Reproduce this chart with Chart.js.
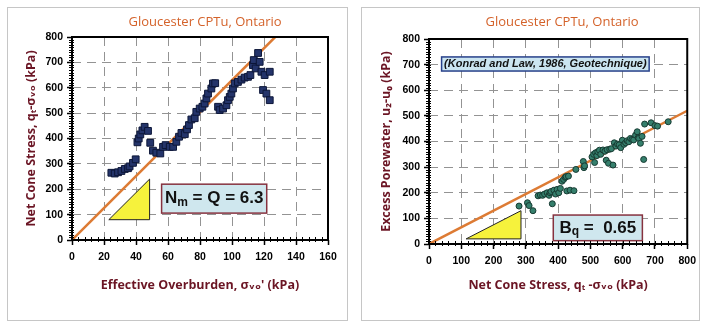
<!DOCTYPE html>
<html>
<head>
<meta charset="utf-8">
<script src="https://cdn.jsdelivr.net/npm/chart.js@4.4.1/dist/chart.umd.min.js"></script>
<style>
  html, body { margin: 0; padding: 0; background: #fff; }
  #wrap { position: relative; width: 702px; height: 322px; overflow: hidden; }
  .panel { position: absolute; border: 1px solid #c6c6c6; box-sizing: border-box; }
  canvas { position: absolute; top: 0; }
</style>
</head>
<body>
<div id="wrap">
  <div class="panel" style="left:7px;top:7px;width:341px;height:314px"></div>
  <div class="panel" style="left:361px;top:7px;width:339px;height:314px"></div>
  <canvas id="left" width="354" height="322" style="left:0"></canvas>
  <canvas id="right" width="348" height="322" style="left:354px"></canvas>
</div>
<script>
// --- left panel: net cone stress vs effective overburden ---
const overburden = [24.6,26.7,28.8,30.9,33,35,36,38.1,39.8,40.9,41.7,42.7,44,45.4,47.5,48.9,50.6,52.7,55.2,56.9,58.5,61.1,63.2,65.2,66.9,68.4,70.5,71.9,73.1,74.6,76.7,77.7,79.8,81.5,82.9,84,85,87.1,88.1,89.5,91.3,92.3,94.4,96.5,97.5,98.6,99.6,100.6,101.7,103.7,105.9,107.9,110,111.5,113.1,113.6,114.8,116.3,117.3,118.4,119.4,120.4,121.5,123.6,123.6];
const netStressL = [265,262,267,272,280,283,290,304,318,385,400,416,432,446,430,383,352,344,341,367,374,367,367,387,407,422,417,436,453,475,480,505,518,525,538,558,577,597,617,618,525,512,518,531,551,564,577,597,617,623,632,640,643,650,689,709,676,737,702,663,591,650,577,663,551];
const fitLX = [0, 127];
const fitLY = [0, 800];

// --- right panel: excess porewater vs net cone stress ---
const netStressR = [279,305,310,322,338,345,352,358,366,372,375,378,382,387,392,397,402,407,412,417,422,425,427,432,437,449,455,478,480,482,505,510,513,516,520,523,528,532,539,545,549,552,556,560,565,570,574,579,584,589,594,599,604,609,614,619,624,629,634,640,645,648,650,655,660,665,668,688,700,708,741];
const excessPore = [148,161,150,130,188,191,190,195,200,190,200,205,157,210,195,213,200,217,245,252,260,263,207,265,210,208,291,322,298,305,340,350,318,356,345,360,366,350,367,362,327,368,315,370,372,308,395,382,390,387,376,405,389,395,403,399,412,408,406,425,438,415,412,393,420,330,468,473,462,460,477];
const fitRX = [0, 800];
const fitRY = [0, 520];

const zip = (xs, ys) => xs.map((x, i) => ({ x, y: ys[i] }));

const TICK_FONT = { family: '"Liberation Sans", Arial, sans-serif', size: 10.5, weight: 'bold' };
const AXIS_FONT = { family: '"Open Sans", "DejaVu Sans", sans-serif', size: 12.5, weight: 'bold' };
const AXIS_RED = '#6b1524';

// extras drawn on top of the scales: triangles, text boxes, frame, minor ticks, title
const decor = {
  id: 'decor',
  beforeDatasetsDraw(chart, args, o) {
    const { ctx } = chart, xs = chart.scales.x, ys = chart.scales.y;
    const px = v => xs.getPixelForValue(v), py = v => ys.getPixelForValue(v);
    ctx.save();
    ctx.beginPath();
    o.tri.forEach((p, i) => i ? ctx.lineTo(px(p[0]), py(p[1])) : ctx.moveTo(px(p[0]), py(p[1])));
    ctx.closePath();
    ctx.fillStyle = '#f6f23c'; ctx.fill();
    ctx.strokeStyle = '#222'; ctx.lineWidth = 1; ctx.stroke();

    o.boxes.forEach(b => {
      const x0 = px(b.x[0]), x1 = px(b.x[1]), y0 = py(b.y[1]), y1 = py(b.y[0]);
      ctx.fillStyle = b.fill; ctx.fillRect(x0, y0, x1 - x0, y1 - y0);
      ctx.strokeStyle = b.edge; ctx.lineWidth = 1.5; ctx.strokeRect(x0, y0, x1 - x0, y1 - y0);
      // text pieces, some of them subscripts
      let w = 0;
      b.parts.forEach(p => { ctx.font = `${b.style} ${p.s}px ${b.family}`; p.w = ctx.measureText(p.t).width; w += p.w; });
      let x = (x0 + x1) / 2 - w / 2;
      const yc = (y0 + y1) / 2 + b.dy;
      ctx.fillStyle = '#111'; ctx.textBaseline = 'middle'; ctx.textAlign = 'left';
      b.parts.forEach(p => { ctx.font = `${b.style} ${p.s}px ${b.family}`; ctx.fillText(p.t, x, yc + (p.dy || 0)); x += p.w; });
    });
    ctx.restore();
  },
  afterDraw(chart, args, o) {
    const { ctx, chartArea: a } = chart, xs = chart.scales.x, ys = chart.scales.y;
    ctx.save();
    ctx.strokeStyle = '#000'; ctx.lineWidth = 1;
    ctx.beginPath();
    for (let v = xs.min; v <= xs.max; v += o.minorX) {
      const x = Math.round(xs.getPixelForValue(v)) + 0.5;
      ctx.moveTo(x, a.bottom - 3); ctx.lineTo(x, a.bottom + 2);
    }
    for (let v = ys.min; v <= ys.max; v += o.minorY) {
      const y = Math.round(ys.getPixelForValue(v)) + 0.5;
      ctx.moveTo(a.left - 3, y); ctx.lineTo(a.left + 2, y);
    }
    ctx.stroke();
    ctx.lineWidth = 2;
    ctx.strokeRect(a.left, a.top, a.right - a.left, a.bottom - a.top);

    ctx.fillStyle = '#d4622a';
    ctx.font = '13px "Open Sans", sans-serif';
    ctx.textAlign = 'center'; ctx.textBaseline = 'middle';
    ctx.fillText(o.title, (a.left + a.right) / 2 + o.titleShift, o.titleY);
    ctx.restore();
  }
};

function axis(max, step, title, size, titlePad, tickPad) {
  return {
    type: 'linear', min: 0, max: max,
    ticks: { stepSize: step, color: '#000', font: TICK_FONT, padding: tickPad },
    grid: { color: '#939393', lineWidth: 1, tickColor: '#000', tickWidth: 1.5, tickLength: 5, tickBorderDash: [] },
    border: { display: false, dash: [9, 6] },
    title: { display: true, text: title, color: AXIS_RED, font: AXIS_FONT, padding: titlePad },
    afterFit: s => { if (s.isHorizontal()) s.height = size; else s.width = size; }
  };
}

function panel(id, o) {
  return new Chart(document.getElementById(id), {
    type: 'scatter',
    data: {
      datasets: [
        { data: o.pts, pointStyle: o.marker, pointRadius: o.r, backgroundColor: o.fill, borderColor: o.edge, borderWidth: 1, order: 1 },
        { data: o.fit, showLine: true, pointRadius: 0, borderColor: '#dd7b34', borderWidth: 2.5, order: 2 }
      ]
    },
    options: {
      responsive: false, animation: false, events: [],
      layout: { autoPadding: false, padding: o.pad },
      plugins: { legend: { display: false }, tooltip: { enabled: false }, decor: o.decor },
      scales: {
        x: axis(o.xMax, o.xStep, o.xTitle, o.xH, { top: 0, bottom: 0 }, 6),
        y: axis(800, 100, o.yTitle, o.yW, { top: o.yTitlePad, bottom: 0 }, 4)
      }
    },
    plugins: [decor]
  });
}

panel('left', {
  pts: zip(overburden, netStressL), fit: zip(fitLX, fitLY),
  marker: 'rect', r: 4.8, fill: '#24346a', edge: '#0c1638',
  xMax: 160, xStep: 20, xH: 53, yW: 72, yTitlePad: 24,
  pad: { left: 0, top: 37, right: 26, bottom: 29 },
  xTitle: "Effective Overburden, σᵥₒ' (kPa)",
  yTitle: 'Net Cone Stress, qₜ-σᵥₒ (kPa)',
  decor: {
    title: 'Gloucester CPTu, Ontario', titleShift: 5, titleY: 22, minorX: 4, minorY: 10,
    tri: [[23, 80], [48.5, 80], [48.5, 240]],
    boxes: [{
      x: [56, 121.7], y: [106, 220], fill: '#cfe7ee', edge: '#86323f', dy: 0,
      style: 'bold', family: '"Liberation Sans", Arial, sans-serif',
      parts: [{ t: 'N', s: 17 }, { t: 'm', s: 12, dy: 4 }, { t: ' = Q = 6.3', s: 17 }]
    }]
  }
});

panel('right', {
  pts: zip(netStressR, excessPore), fit: zip(fitRX, fitRY),
  marker: 'circle', r: 3, fill: '#357f6c', edge: '#163a31',
  xMax: 800, xStep: 100, xH: 49, yW: 75, yTitlePad: 25,
  pad: { left: 0, top: 39, right: 9, bottom: 29 },
  xTitle: 'Net Cone Stress, qₜ -σᵥₒ (kPa)',
  yTitle: 'Excess Porewater, u₂-u₀ (kPa)',
  decor: {
    title: 'Gloucester CPTu, Ontario', titleShift: 4, titleY: 22, minorX: 20, minorY: 10,
    tri: [[115, 20], [285, 20], [285, 130]],
    boxes: [{
      x: [385, 661], y: [13, 113], fill: '#cfe7ee', edge: '#86323f', dy: 0,
      style: 'bold', family: '"Liberation Sans", Arial, sans-serif',
      parts: [{ t: 'B', s: 17 }, { t: 'q', s: 12, dy: 4 }, { t: ' =  0.65', s: 17 }]
    }, {
      x: [39, 682], y: [675, 730], fill: '#cbe5f1', edge: '#28418a', dy: 0,
      style: 'italic bold', family: '"Liberation Sans", Arial, sans-serif',
      parts: [{ t: '(Konrad and Law, 1986, Geotechnique)', s: 11 }]
    }]
  }
});
</script>
</body>
</html>
